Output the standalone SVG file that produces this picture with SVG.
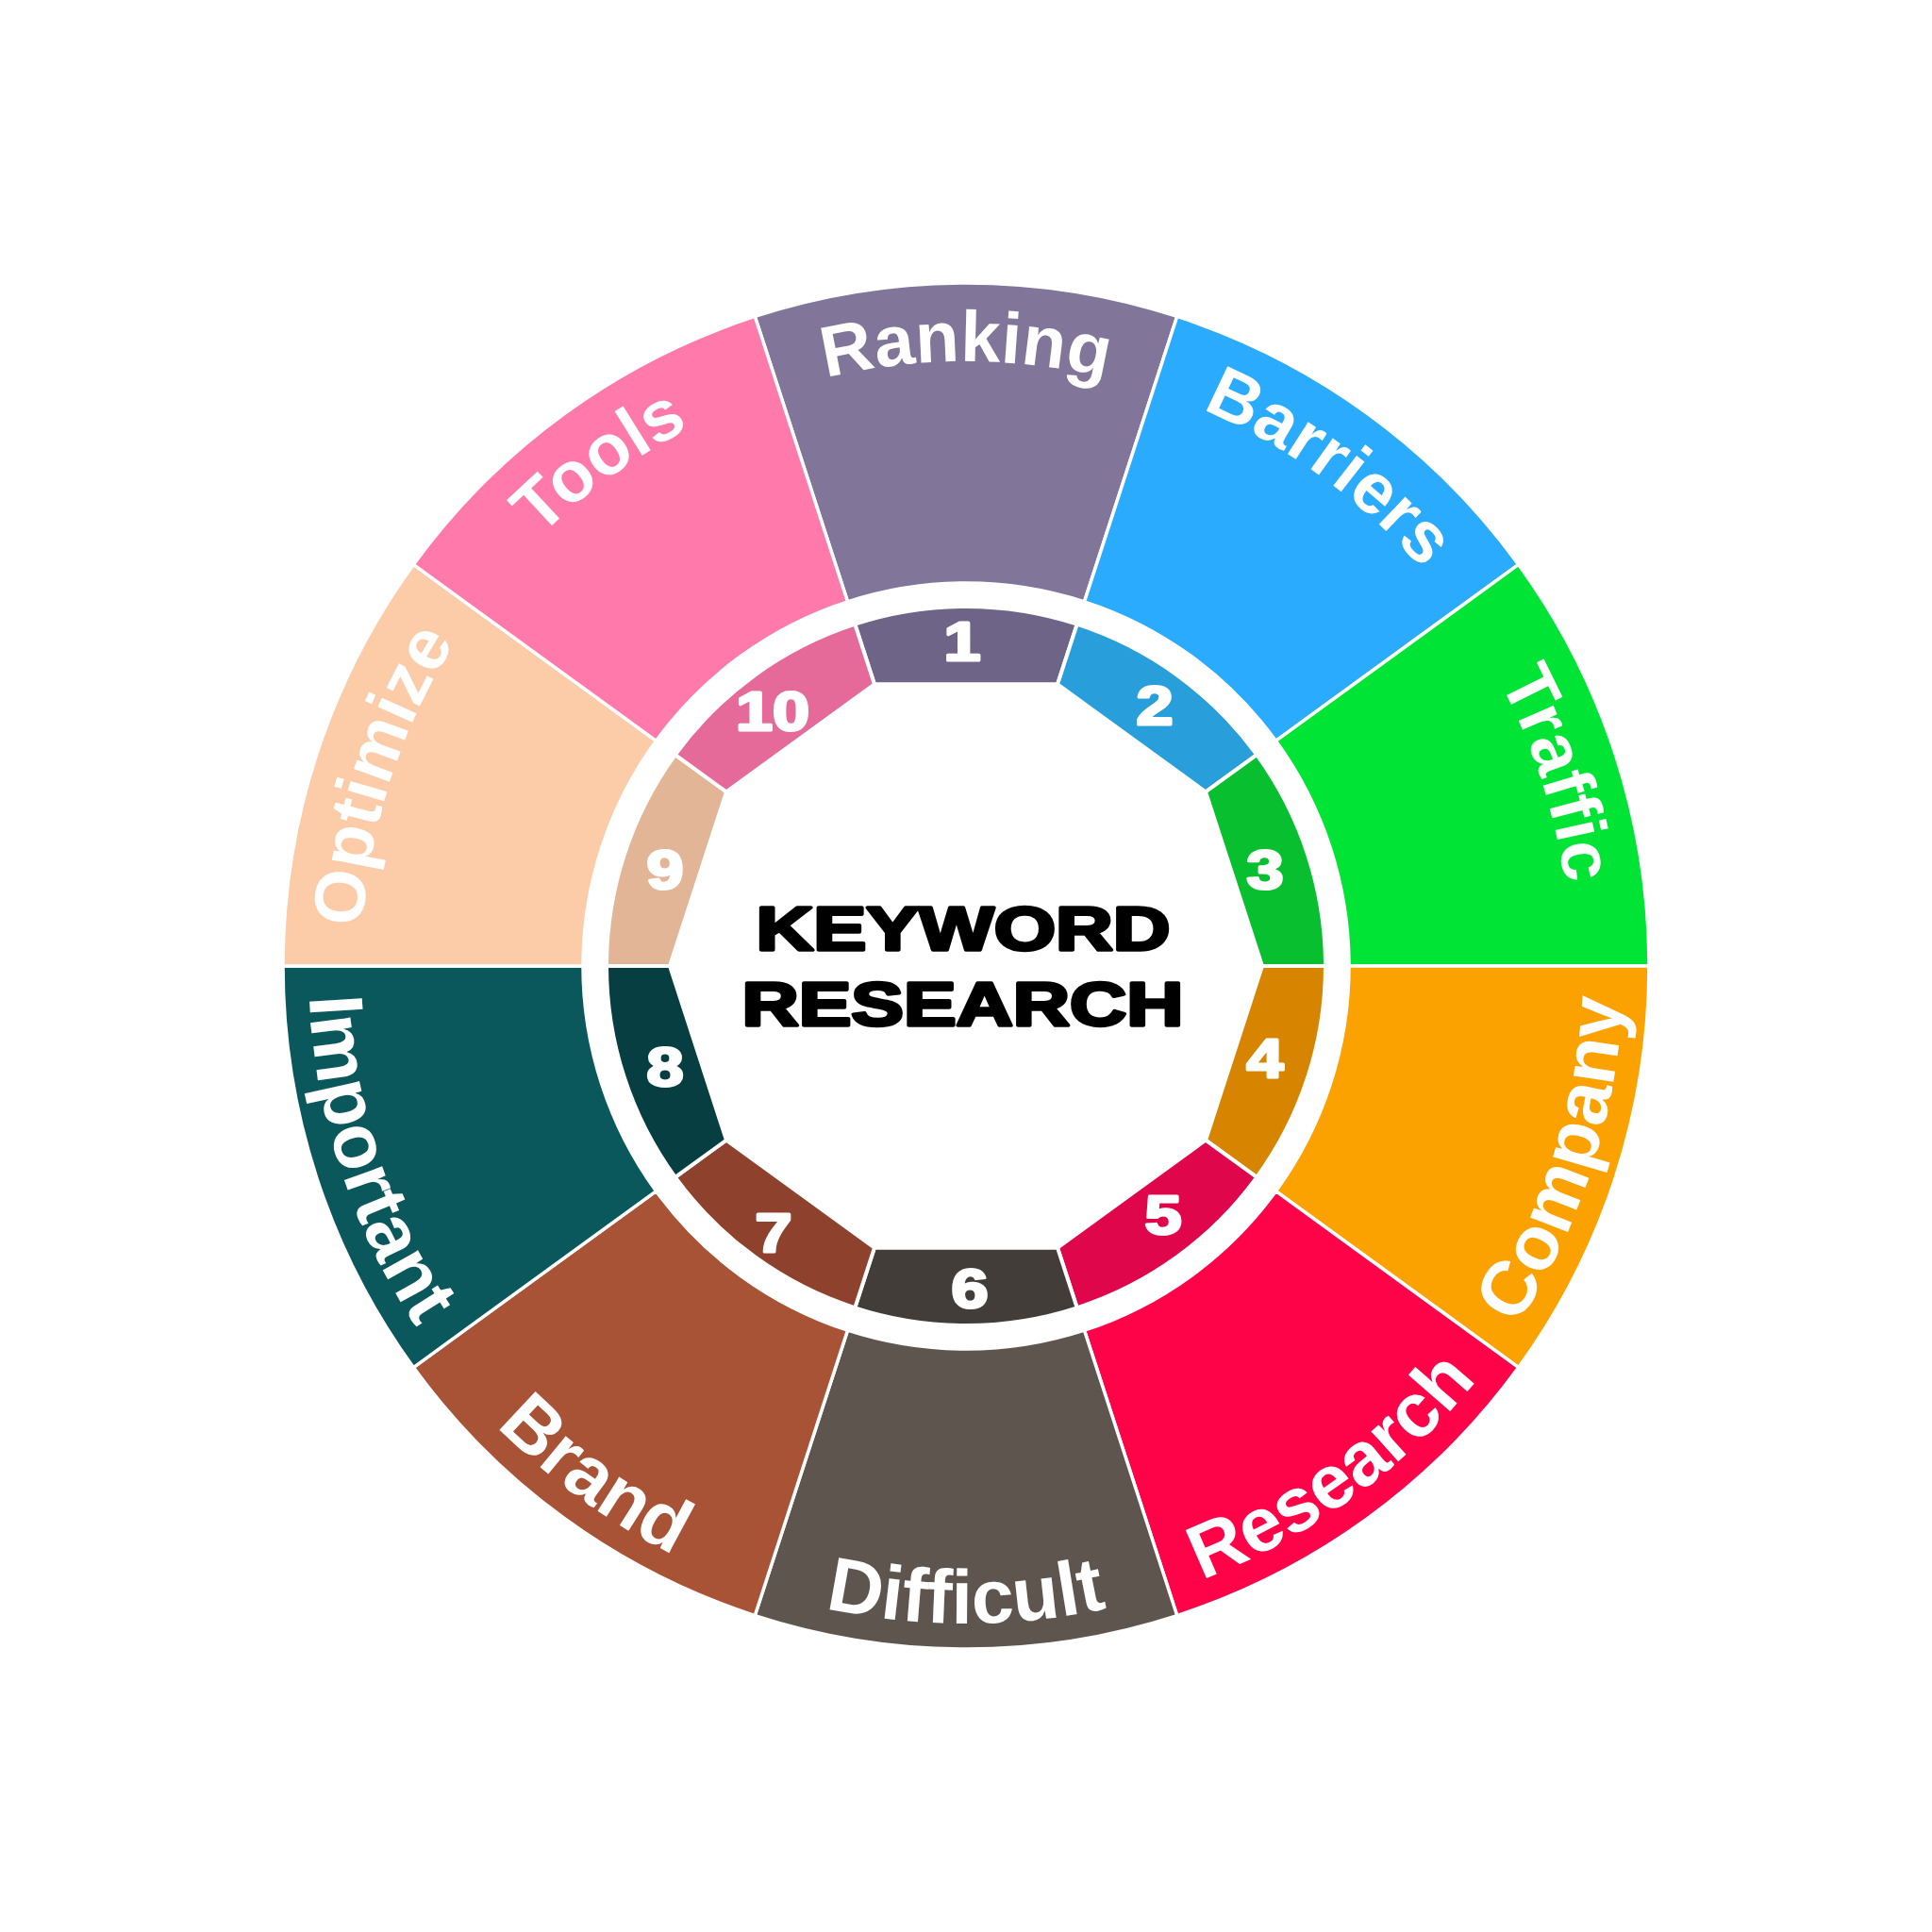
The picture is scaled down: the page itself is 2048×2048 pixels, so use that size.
<svg xmlns="http://www.w3.org/2000/svg" xmlns:xlink="http://www.w3.org/1999/xlink" width="2048" height="2048" viewBox="0 0 2048 2048">
<defs>
<style>
.seg{stroke:#ffffff;stroke-width:3.5;stroke-linejoin:miter}
.in{stroke:#ffffff;stroke-width:4;stroke-linejoin:miter}
.lbl{font-family:"Liberation Sans",Arial,sans-serif;font-weight:bold;font-size:76px;fill:#ffffff}
.lblb{font-family:"Liberation Sans",Arial,sans-serif;font-weight:bold;font-size:81px;fill:#ffffff}
.num{font-family:"Liberation Sans",Arial,sans-serif;font-weight:bold;font-size:57px;fill:#ffffff;stroke:#ffffff;stroke-width:3;stroke-linejoin:round;text-anchor:middle}
.title{font-family:"Liberation Sans",Arial,sans-serif;font-weight:bold;font-size:64px;fill:#000000;stroke:#000000;stroke-width:3.5;stroke-linejoin:round}
</style>
<path id="arcTop" d="M 570.75 570.75 A 641 641 0 0 1 1477.25 570.75"/>
<path id="arcBot" d="M 531.15 1516.85 A 697 697 0 0 0 1516.85 1516.85"/>
</defs>
<rect width="2048" height="2048" fill="#ffffff"/>

<g id="seg1">
<path class="seg" fill="#817699" d="M 800.27 335.43 A 724 724 0 0 1 1247.73 335.43 L 1149.46 637.87 A 406 406 0 0 0 898.54 637.87 Z"/>
<path class="in" fill="#6E6487" d="M 906.26 661.65 A 381 381 0 0 1 1141.74 661.65 L 1121.03 725.37 L 926.97 725.37 Z"/>
<text class="lbl"><textPath xlink:href="#arcTop" href="#arcTop" startOffset="50%" text-anchor="middle">Ranking</textPath></text>
<text class="num" x="1020" y="700" textLength="39" lengthAdjust="spacingAndGlyphs">1</text>
</g>

<g id="seg2">
<path class="seg" fill="#2AABFD" d="M 1247.73 335.43 A 724 724 0 0 1 1609.73 598.44 L 1352.46 785.36 A 406 406 0 0 0 1149.46 637.87 Z"/>
<path class="in" fill="#289FDA" d="M 1141.74 661.65 A 381 381 0 0 1 1332.24 800.05 L 1278.03 839.44 L 1121.03 725.37 Z"/>
<g transform="rotate(36 1024 1024)"><text class="lbl"><textPath xlink:href="#arcTop" href="#arcTop" startOffset="50%" text-anchor="middle">Barriers</textPath></text></g>
<text class="num" x="1224" y="768" textLength="39" lengthAdjust="spacingAndGlyphs">2</text>
</g>

<g id="seg3">
<path class="seg" fill="#00E436" d="M 1609.73 598.44 A 724 724 0 0 1 1748 1024 L 1430 1024 A 406 406 0 0 0 1352.46 785.36 Z"/>
<path class="in" fill="#07BF2F" d="M 1332.24 800.05 A 381 381 0 0 1 1405 1024 L 1338 1024 L 1278.03 839.44 Z"/>
<g transform="rotate(72 1024 1024)"><text class="lbl"><textPath xlink:href="#arcTop" href="#arcTop" startOffset="50%" text-anchor="middle">Traffic</textPath></text></g>
<text class="num" x="1341" y="942" textLength="39" lengthAdjust="spacingAndGlyphs">3</text>
</g>

<g id="seg4">
<path class="seg" fill="#FBA100" d="M 1748 1024 A 724 724 0 0 1 1609.73 1449.56 L 1352.46 1262.64 A 406 406 0 0 0 1430 1024 Z"/>
<path class="in" fill="#D78500" d="M 1405 1024 A 381 381 0 0 1 1332.24 1247.95 L 1278.03 1208.56 L 1338 1024 Z"/>
<g transform="rotate(-72 1024 1024)"><text class="lblb"><textPath xlink:href="#arcBot" href="#arcBot" startOffset="50%" text-anchor="middle">Company</textPath></text></g>
<text class="num" x="1341" y="1142" textLength="39" lengthAdjust="spacingAndGlyphs">4</text>
</g>

<g id="seg5">
<path class="seg" fill="#FF0349" d="M 1609.73 1449.56 A 724 724 0 0 1 1247.73 1712.57 L 1149.46 1410.13 A 406 406 0 0 0 1352.46 1262.64 Z"/>
<path class="in" fill="#DF064B" d="M 1332.24 1247.95 A 381 381 0 0 1 1141.74 1386.35 L 1121.03 1322.63 L 1278.03 1208.56 Z"/>
<g transform="rotate(-36 1024 1024)"><text class="lblb"><textPath xlink:href="#arcBot" href="#arcBot" startOffset="50%" text-anchor="middle">Research</textPath></text></g>
<text class="num" x="1233" y="1308" textLength="39" lengthAdjust="spacingAndGlyphs">5</text>
</g>

<g id="seg6">
<path class="seg" fill="#5E554F" d="M 1247.73 1712.57 A 724 724 0 0 1 800.27 1712.57 L 898.54 1410.13 A 406 406 0 0 0 1149.46 1410.13 Z"/>
<path class="in" fill="#433D39" d="M 1141.74 1386.35 A 381 381 0 0 1 906.26 1386.35 L 926.97 1322.63 L 1121.03 1322.63 Z"/>
<text class="lblb"><textPath xlink:href="#arcBot" href="#arcBot" startOffset="50%" text-anchor="middle">Difficult</textPath></text>
<text class="num" x="1028" y="1386" textLength="39" lengthAdjust="spacingAndGlyphs">6</text>
</g>

<g id="seg7">
<path class="seg" fill="#A85236" d="M 800.27 1712.57 A 724 724 0 0 1 438.27 1449.56 L 695.54 1262.64 A 406 406 0 0 0 898.54 1410.13 Z"/>
<path class="in" fill="#8E412D" d="M 906.26 1386.35 A 381 381 0 0 1 715.76 1247.95 L 769.97 1208.56 L 926.97 1322.63 Z"/>
<g transform="rotate(36 1024 1024)"><text class="lblb"><textPath xlink:href="#arcBot" href="#arcBot" startOffset="50%" text-anchor="middle">Brand</textPath></text></g>
<text class="num" x="820" y="1327" textLength="39" lengthAdjust="spacingAndGlyphs">7</text>
</g>

<g id="seg8">
<path class="seg" fill="#0A585C" d="M 438.27 1449.56 A 724 724 0 0 1 300 1024 L 618 1024 A 406 406 0 0 0 695.54 1262.64 Z"/>
<path class="in" fill="#073E41" d="M 715.76 1247.95 A 381 381 0 0 1 643 1024 L 710 1024 L 769.97 1208.56 Z"/>
<g transform="rotate(72 1024 1024)"><text class="lblb"><textPath xlink:href="#arcBot" href="#arcBot" startOffset="50%" text-anchor="middle">Important</textPath></text></g>
<text class="num" x="705" y="1151" textLength="39" lengthAdjust="spacingAndGlyphs">8</text>
</g>

<g id="seg9">
<path class="seg" fill="#FCCBA8" d="M 300 1024 A 724 724 0 0 1 438.27 598.44 L 695.54 785.36 A 406 406 0 0 0 618 1024 Z"/>
<path class="in" fill="#E1B596" d="M 643 1024 A 381 381 0 0 1 715.76 800.05 L 769.97 839.44 L 710 1024 Z"/>
<g transform="rotate(-72 1024 1024)"><text class="lbl"><textPath xlink:href="#arcTop" href="#arcTop" startOffset="50%" text-anchor="middle">Optimize</textPath></text></g>
<text class="num" x="705" y="942" textLength="39" lengthAdjust="spacingAndGlyphs">9</text>
</g>

<g id="seg10">
<path class="seg" fill="#FF7AAA" d="M 438.27 598.44 A 724 724 0 0 1 800.27 335.43 L 898.54 637.87 A 406 406 0 0 0 695.54 785.36 Z"/>
<path class="in" fill="#E56A9A" d="M 715.76 800.05 A 381 381 0 0 1 906.26 661.65 L 926.97 725.37 L 769.97 839.44 Z"/>
<g transform="rotate(-36 1024 1024)"><text class="lbl"><textPath xlink:href="#arcTop" href="#arcTop" startOffset="50%" text-anchor="middle">Tools</textPath></text></g>
<text class="num" x="819" y="774" textLength="78" lengthAdjust="spacingAndGlyphs">10</text>
</g>

<g id="title">
<text class="title" x="801.5" y="1006.5" textLength="439" lengthAdjust="spacingAndGlyphs">KEYWORD</text>
<text class="title" x="786.5" y="1086.5" textLength="468" lengthAdjust="spacingAndGlyphs">RESEARCH</text>
</g>
</svg>
